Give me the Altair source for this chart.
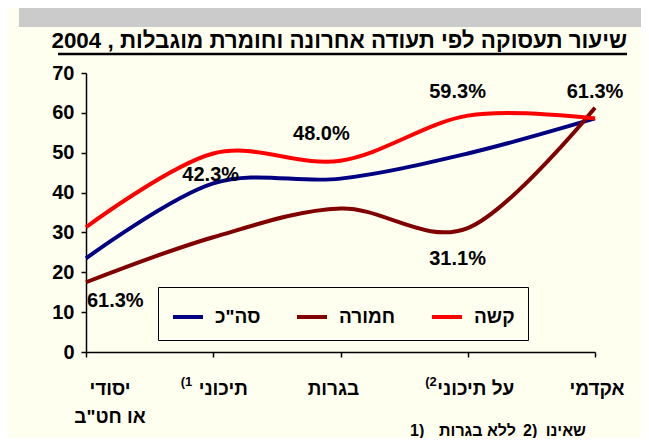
import altair as alt
import pandas as pd

# ---------------- data ----------------
categories = ["יסודי\nאו חט\"ב", "תיכוני", "בגרות", "על תיכוני", "אקדמי"]
cat_idx = [0, 1, 2, 3, 4]
superscripts = ["", "(1", "", "(2", ""]

series_names = ['סה"כ', "חמורה", "קשה"]
series_colors = ["#000080", "#800000", "#FF0000"]
total = [23.5, 42.3, 43.5, 49.8, 58.6]
severe = [17.5, 28.8, 36.0, 31.1, 61.3]
hard = [31.3, 49.8, 48.0, 59.3, 58.6]

label_text = ["42.3%", "48.0%", "59.3%", "61.3%", "31.1%", "61.3%"]
label_x = [0.98, 1.85, 2.92, 4.0, 2.92, 0.23]
label_y = [44.5, 54.8, 65.3, 65.3, 23.3, 12.8]

y_ticks = [0, 10, 20, 30, 40, 50, 60, 70]
title_text = "שיעור תעסוקה לפי תעודה אחרונה וחומרת מוגבלות , 2004"
footnote_nums = ["1)", "2)"]
footnote_texts = ["ללא בגרות", "שאינו"]

FONT = "Liberation Sans"
BG = "#FFFFF0"
RLE, LRO, PDF = "\u202B", "\u202D", "\u202C"

# ---------------- scales ----------------
X = alt.X("idx:Q", scale=alt.Scale(domain=[0, 4], nice=False, zero=False),
          axis=alt.Axis(values=cat_idx, labels=False, title=None, grid=False,
                        tickSize=5, tickColor="black", tickWidth=1.5,
                        domainColor="black", domainWidth=1.5))
Y = alt.Y("value:Q", scale=alt.Scale(domain=[0, 70], nice=False),
          axis=alt.Axis(values=y_ticks, title=None, grid=False, tickSize=5,
                        tickColor="black", tickWidth=1.5, domainColor="black",
                        domainWidth=1.5, labelFont=FONT, labelFontSize=20,
                        labelFontWeight="bold", labelColor="black",
                        labelPadding=7, labelOverlap=False, labelFlush=False))

color = alt.Color("series:N",
                  scale=alt.Scale(domain=series_names, range=series_colors),
                  legend=alt.Legend(orient="none", legendX=72, legendY=214,
                                    direction="horizontal", title=None,
                                    symbolType="stroke", symbolStrokeWidth=4,
                                    symbolSize=900, labelFont=FONT,
                                    labelFontSize=19, labelFontWeight="bold",
                                    labelColor="black", labelOffset=10,
                                    columnPadding=28, padding=13,
                                    strokeColor="black", fillColor=BG,
                                    labelLimit=300))

lines = []
for name, vals in zip(series_names, [total, severe, hard]):
    df = pd.DataFrame({"idx": cat_idx, "value": vals, "series": name})
    lines.append(alt.Chart(df).mark_line(strokeWidth=4, interpolate="cardinal")
                 .encode(x=X, y=Y, color=color))

lab_df = pd.DataFrame({"idx": label_x, "value": label_y, "t": label_text})
labels = alt.Chart(lab_df).mark_text(font=FONT, fontSize=20, fontWeight="bold",
                                      color="black", baseline="middle").encode(
    x=X, y=Y, text="t:N")

# category labels (x axis)
label_dx = [24, 10, -7, 8, 2]
sup_dx = [0, -21, 0, -31, 0]
cat_layers = []
for i, (c, s) in enumerate(zip(categories, superscripts)):
    d = pd.DataFrame({"idx": [cat_idx[i]], "t": [c],
                      "s": [LRO + s + PDF if s else ""]})
    cat_layers.append(alt.Chart(d).mark_text(
        font=FONT, fontSize=19, fontWeight="bold", color="black",
        align="center", baseline="alphabetic", lineBreak="\n", lineHeight=28,
        dx=label_dx[i]).encode(x=X, y=alt.value(322), text="t:N"))
    if s:
        cat_layers.append(alt.Chart(d).mark_text(
            font=FONT, fontSize=13, fontWeight="bold", color="black",
            align="right", baseline="alphabetic", dx=sup_dx[i]).encode(
            x=X, y=alt.value(313), text="s:N"))

# title, underline, band, footnotes
band = alt.Chart(pd.DataFrame({"a": [0]})).mark_rect(color="#CBCBCB").encode(
    x=alt.value(-67), x2=alt.value(560), y=alt.value(-65), y2=alt.value(-46))
title = alt.Chart(pd.DataFrame({"t": [RLE + title_text + PDF]})).mark_text(
    font=FONT, fontSize=22.4, fontWeight="bold", color="black", align="right",
    baseline="alphabetic").encode(x=alt.value(541), y=alt.value(-25), text="t:N")
underline = alt.Chart(pd.DataFrame({"a": [0]})).mark_rule(
    color="black", strokeWidth=2.5).encode(
    x=alt.value(-28), x2=alt.value(541), y=alt.value(-19))

fn_num_x = [324, 437]
fn_txt_x = [430, 500]
fn_layers = []
for n, t, nx, tx in zip(footnote_nums, footnote_texts, fn_num_x, fn_txt_x):
    fn_layers.append(alt.Chart(pd.DataFrame({"t": [LRO + n + PDF]})).mark_text(
        font=FONT, fontSize=16, fontWeight="bold", color="black", align="left",
        baseline="alphabetic").encode(x=alt.value(nx), y=alt.value(363), text="t:N"))
    fn_layers.append(alt.Chart(pd.DataFrame({"t": [t]})).mark_text(
        font=FONT, fontSize=16, fontWeight="bold", color="black", align="right",
        baseline="alphabetic").encode(x=alt.value(tx), y=alt.value(363), text="t:N"))

chart = alt.layer(band, title, underline, *lines, labels, *cat_layers, *fn_layers).properties(
    width=509, height=279,
    autosize=alt.AutoSizeParams(type="none"),
    padding={"left": 78, "top": 65, "right": 46, "bottom": 86},
    background=BG,
).configure_view(stroke=None)

chart.save("out.html", embed_options={"renderer": "svg", "actions": False})
